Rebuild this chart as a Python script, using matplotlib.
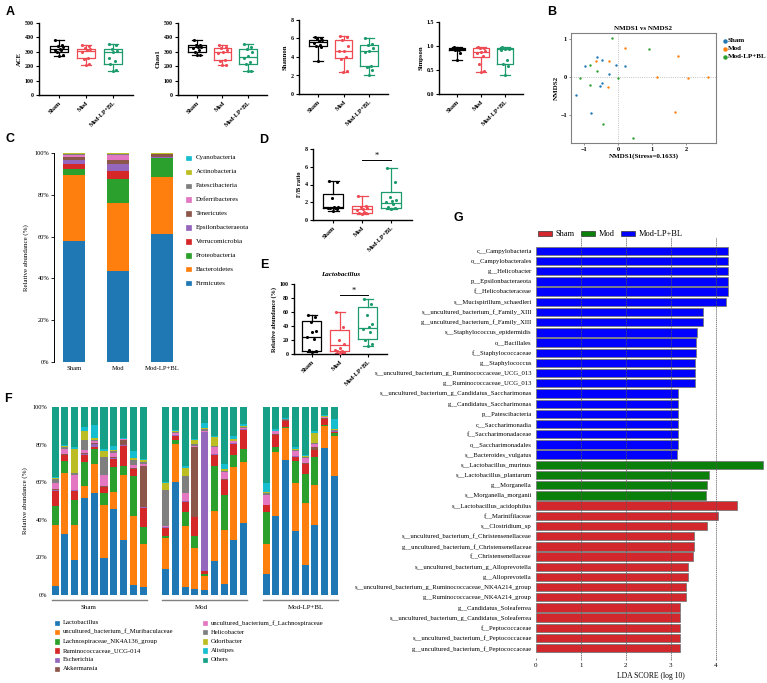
import numpy as np
import matplotlib
matplotlib.use("Agg")
import matplotlib.pyplot as plt
from matplotlib.patches import Rectangle
from matplotlib.lines import Line2D

# ---------------- data ----------------
groups = ["Sham", "Mod", "Mod-LP+BL"]

# Panel A: box stats [min, q1, median, q3, max] and individual points
ace_stats = [[270, 300, 318, 340, 385], [210, 255, 305, 322, 350], [170, 215, 300, 322, 355]]
ace_points = [[385, 345, 340, 330, 322, 315, 310, 300, 280, 270],
              [350, 340, 325, 320, 315, 300, 260, 250, 215, 210],
              [355, 345, 320, 305, 300, 255, 235, 215, 175, 170]]
chao_stats = [[275, 300, 330, 345, 385], [205, 240, 300, 325, 345], [165, 215, 265, 320, 355]]
chao_points = [[385, 350, 345, 335, 330, 325, 310, 300, 280, 275],
               [345, 335, 325, 315, 300, 290, 245, 235, 210, 205],
               [355, 335, 320, 300, 270, 260, 230, 215, 170, 165]]
shannon_stats = [[3.6, 5.2, 5.6, 5.8, 6.2], [2.4, 3.9, 4.6, 5.8, 6.3], [2.0, 3.0, 4.6, 5.3, 6.0]]
shannon_points = [[6.2, 6.0, 5.9, 5.8, 5.7, 5.5, 5.3, 5.2, 5.1, 3.6],
                  [6.3, 6.2, 5.8, 5.2, 4.7, 4.6, 4.0, 3.8, 2.5, 2.4],
                  [6.0, 5.4, 5.3, 5.0, 4.7, 4.5, 3.0, 2.9, 2.6, 2.0]]
simpson_stats = [[0.70, 0.91, 0.93, 0.95, 0.97], [0.45, 0.78, 0.88, 0.95, 0.98], [0.40, 0.62, 0.93, 0.95, 0.97]]
simpson_points = [[0.97, 0.96, 0.95, 0.94, 0.93, 0.93, 0.92, 0.91, 0.85, 0.70],
                  [0.98, 0.96, 0.95, 0.90, 0.88, 0.86, 0.80, 0.63, 0.47, 0.45],
                  [0.97, 0.96, 0.95, 0.94, 0.93, 0.92, 0.70, 0.62, 0.58, 0.40]]

# Panel B: NMDS coordinates
nmds_sham_x = [-0.61, -0.47, -0.97, -0.07, -0.25, 0.22, -0.47, -0.53, -1.22, -0.80]
nmds_sham_y = [0.53, 0.45, 0.28, 0.32, 0.09, 0.30, -0.15, -0.24, -0.46, -0.95]
nmds_mod_x = [0.22, -0.65, -0.27, 1.75, 1.15, 2.07, 2.64, -0.28, 1.67]
nmds_mod_y = [0.77, 0.43, 0.41, 0.54, -0.01, -0.03, -0.01, -0.26, -0.92]
nmds_lp_x = [-0.19, 0.91, -0.81, -0.63, -1.11, -0.01, -0.81, -0.44, 0.45]
nmds_lp_y = [1.03, 0.73, 0.31, 0.17, -0.03, -0.03, -0.20, -1.23, -1.58]

# Panel C: phylum relative abundance (%)
phyla = ["Firmicutes", "Bacteroidetes", "Proteobacteria", "Verrucomicrobia", "Epsilonbacteraeota",
         "Tenericutes", "Deferribacteres", "Patescibacteria", "Actinobacteria", "Cyanobacteria"]
firmicutes = [57.7, 43.4, 61.2]
bacteroidetes = [31.9, 32.5, 27.3]
proteobacteria = [2.6, 11.5, 8.9]
verrucomicrobia = [2.7, 3.8, 0.3]
epsilonbacteraeota = [1.9, 3.4, 0.2]
tenericutes = [1.3, 1.9, 1.5]
deferribacteres = [1.1, 2.7, 0.2]
patescibacteria = [0.3, 0.4, 0.1]
actinobacteria = [0.3, 0.2, 0.2]
cyanobacteria = [0.2, 0.2, 0.1]

# Panel D: F/B ratio
fb_stats = [[1.0, 1.3, 1.5, 2.9, 4.4], [0.7, 0.75, 1.2, 1.6, 2.7], [1.2, 1.4, 1.9, 3.1, 5.9]]
fb_points = [[4.4, 4.3, 2.5, 1.5, 1.5, 1.4, 1.4, 1.3, 1.2, 1.0],
             [2.7, 1.6, 1.5, 1.3, 1.2, 1.1, 0.9, 0.8, 0.75, 0.7],
             [5.9, 4.3, 2.6, 2.2, 2.1, 2.0, 1.8, 1.5, 1.4, 1.2]]

# Panel E: Lactobacillus relative abundance (%)
lacto_stats = [[3, 5, 25, 47, 55], [2, 4, 13, 34, 60], [12, 21, 37.6, 66.7, 78.6]]
lacto_points = [[55, 53, 46, 33, 32, 24, 22, 6, 5, 3],
                [60, 38, 20, 14, 9, 6, 5, 4, 3, 2],
                [78, 72, 55, 43, 38, 36, 32, 20, 14, 12]]

# Panel F: genus level, cumulative top (%) of each taxon per sample (10 Sham, 9 Mod, 8 Mod-LP+BL)
f_sizes = [10, 9, 8]
genera = ["Lactobacillus", "uncultured_bacterium_f_Muribaculaceae", "Lachnospiraceae_NK4A136_group",
          "Ruminococcaceae_UCG-014", "Escherichia", "Akkermansia", "uncultured_bacterium_f_Lachnospiraceae",
          "Helicobacter", "Odoribacter", "Alistipes", "Others"]
cum_lactobacillus = [5, 32.5, 18.5, 51.5, 54, 19.5, 46, 29, 5.5, 4,
                     14, 60, 4, 3, 2.5, 18, 6, 29, 38.5,
                     11.3, 42, 72, 34, 16, 37.5, 78, 63.5]
cum_muribaculaceae = [37, 65, 37.5, 58, 69.5, 48, 55, 64, 42, 27,
                      30.5, 80.5, 36.5, 25, 10, 44.5, 34.5, 68, 70.5,
                      27, 76, 89, 59.5, 49, 58.5, 90, 84.5]
cum_nk4a136 = [47.5, 71.5, 50.5, 70.5, 77.5, 54.5, 68, 68.5, 63.5, 36,
               31.5, 82.5, 44, 31.5, 11, 68.5, 53, 74.5, 77.5,
               44, 78.5, 89.5, 71.5, 64.5, 73.5, 90.5, 86]
cum_ucg014 = [55.5, 74.5, 55.5, 74.5, 78.5, 57.5, 72.5, 79.5, 67, 46.5,
              35.5, 84.5, 49.5, 41.5, 13, 74.5, 61, 80.5, 88,
              47.7, 85, 92.5, 73.5, 69.5, 77, 93.5, 86.5]
cum_escherichia = [56, 74.7, 55.8, 75, 80.5, 57.7, 73, 79.7, 67.2, 46.7,
                   36, 85, 49.8, 41.7, 86.5, 74.8, 61.3, 80.8, 88.3,
                   47.9, 85.2, 92.7, 73.7, 69.7, 77.2, 93.7, 87]
cum_akkermansia = [56.2, 75, 56, 75.5, 81, 58, 73.5, 82.5, 67.5, 68.5,
                   36.2, 85.3, 50, 78.5, 86.8, 75, 61.5, 81, 88.5,
                   48, 85.5, 93, 74, 70, 78.5, 94, 87.2]
cum_lachnospiraceae = [59.5, 77.5, 64, 77, 82, 64, 75.5, 82.8, 69, 69.7,
                       36.5, 86.3, 54.5, 79, 87.3, 78.5, 65.5, 81.7, 88.8,
                       53.2, 87, 93.2, 76.5, 73, 80.5, 94.5, 87.5]
cum_helicobacter = [61.5, 78.5, 64.8, 82.5, 82.5, 73.5, 76.5, 83, 72, 71,
                    56, 86.8, 63.5, 80.5, 88.5, 79, 66.2, 82, 89.2,
                    54, 87.3, 93.5, 77, 73.5, 81, 94.8, 88]
cum_odoribacter = [62.5, 79.2, 77.5, 87, 83.5, 76.5, 77, 83.2, 73, 72,
                   59.5, 87, 67.5, 82.5, 89, 84, 66.8, 83, 90,
                   55, 87.5, 93.7, 77.5, 74, 86, 95, 88.5]
cum_alistipes = [63, 79.8, 78.5, 89.5, 90.5, 77.5, 79.5, 83.7, 76.5, 72.5,
                 60.2, 88, 68.5, 83, 91.5, 84.5, 69.5, 84.5, 90.7,
                 59.5, 88.5, 94, 78.5, 74.5, 87, 95.5, 93.5]
cum_others = [100] * 27

# Panel G: LEfSe LDA scores
lda_labels = ["c__Campylobacteria", "o__Campylobacterales", "g__Helicobacter", "p__Epsilonbacteraeota",
              "f__Helicobacteraceae", "s__Mucispirillum_schaedleri", "s__uncultured_bacterium_f_Family_XIII",
              "g__uncultured_bacterium_f_Family_XIII", "s__Staphylococcus_epidermidis", "o__Bacillales",
              "f__Staphylococcaceae", "g__Staphylococcus", "s__uncultured_bacterium_g_Ruminococcaceae_UCG_013",
              "g__Ruminococcaceae_UCG_013", "s__uncultured_bacterium_g_Candidatus_Saccharimonas",
              "g__Candidatus_Saccharimonas", "p__Patescibacteria", "c__Saccharimonadia", "f__Saccharimonadaceae",
              "o__Saccharimonadales", "s__Bacteroides_vulgatus", "s__Lactobacillus_murinus",
              "s__Lactobacillus_plantarum", "g__Morganella", "s__Morganella_morganii",
              "s__Lactobacillus_acidophilus", "f__Marinifilaceae", "s__Clostridium_sp",
              "s__uncultured_bacterium_f_Christensenellaceae", "g__uncultured_bacterium_f_Christensenellaceae",
              "f__Christensenellaceae", "s__uncultured_bacterium_g_Alloprevotella", "g__Alloprevotella",
              "s__uncultured_bacterium_g_Ruminococcaceae_NK4A214_group", "g__Ruminococcaceae_NK4A214_group",
              "g__Candidatus_Soleaferrea", "s__uncultured_bacterium_g_Candidatus_Soleaferrea",
              "f__Peptococcaceae", "s__uncultured_bacterium_f_Peptococcaceae",
              "g__uncultured_bacterium_f_Peptococcaceae"]
lda_scores = [4.27, 4.27, 4.27, 4.27, 4.27, 4.22, 3.71, 3.71, 3.59, 3.57, 3.56, 3.54, 3.53, 3.53,
              3.16, 3.16, 3.16, 3.16, 3.16, 3.16, 3.14,
              5.06, 3.86, 3.81, 3.78,
              4.48, 4.06, 3.80, 3.51, 3.51, 3.49, 3.39, 3.39, 3.33, 3.33, 3.21, 3.21, 3.20, 3.20, 3.20]
lda_groups = ["Mod-LP+BL"] * 21 + ["Mod"] * 4 + ["Sham"] * 15

# ---------------- styling ----------------
W, H = 767, 683
plt.rcParams['font.family'] = ['Liberation Serif', 'DejaVu Serif']
fig = plt.figure(figsize=(W / 100, H / 100), dpi=100)

box_colors = ['#000000', '#ef4b55', '#1d9b6c']
tab = ['#1f77b4', '#ff7f0e', '#2ca02c', '#d62728', '#9467bd', '#8c564b', '#e377c2', '#7f7f7f', '#bcbd22', '#17becf']
jit = np.array([-0.14, 0.12, -0.04, 0.16, 0.02, -0.16, 0.08, -0.09, 0.13, -0.01])


def add_ax(l, t, r, b):
    return fig.add_axes([l / W, 1 - b / H, (r - l) / W, (b - t) / H])


def letter(x, y, s):
    fig.text(x / W, 1 - y / H, s, fontsize=9, fontweight='bold', family='Liberation Sans',
             va='center', ha='center')


def legend_square(x, y, color, label, size=5, fs=5, gap=4, edge=None, w=None, weight='normal'):
    w = size if w is None else w
    fig.patches.append(Rectangle((x / W, 1 - (y + size / 2) / H), w / W, size / H,
                                 transform=fig.transFigure, facecolor=color,
                                 edgecolor=edge if edge else color, lw=0.5, figure=fig))
    fig.text((x + w + gap) / W, 1 - y / H, label, fontsize=fs, va='center', ha='left', fontweight=weight)


def box_panel(ax, stats, points, ylim, yticks, ylabel, xlim=(-0.75, 2.75), fmt=None, tfs=4.3):
    for i in range(3):
        s = stats[i]
        c = box_colors[i]
        bx = [{'whislo': s[0], 'q1': s[1], 'med': s[2], 'q3': s[3], 'whishi': s[4], 'fliers': []}]
        ax.bxp(bx, positions=[i], widths=0.68, capwidths=0.38, showfliers=False, manage_ticks=False,
               boxprops=dict(color=c, lw=0.9), medianprops=dict(color=c, lw=0.9),
               whiskerprops=dict(color=c, lw=0.9), capprops=dict(color=c, lw=0.9))
        pts = np.array(points[i])
        ax.scatter(i + jit[:len(pts)], pts, s=5, color=c, zorder=3, lw=0)
    ax.set_xlim(*xlim)
    ax.set_ylim(*ylim)
    ax.set_yticks(yticks)
    if fmt:
        ax.set_yticklabels([fmt.format(v) for v in yticks])
    ax.set_xticks([0, 1, 2])
    ax.set_xticklabels(groups, rotation=45, ha='right', rotation_mode='anchor', fontsize=4.5, fontweight='bold')
    for lab in ax.get_yticklabels():
        lab.set_fontsize(tfs)
        lab.set_fontweight('bold')
    ax.set_ylabel(ylabel, fontsize=4.8, fontweight='bold', labelpad=2)
    for sp in ['top', 'right']:
        ax.spines[sp].set_visible(False)
    for sp in ['left', 'bottom']:
        ax.spines[sp].set_linewidth(1.0)
    ax.tick_params(length=2.2, width=0.8, pad=1.5)


# ---------------- Panel A ----------------
letter(10, 12, 'A')
ax = add_ax(39, 23, 133, 95)
box_panel(ax, ace_stats, ace_points, (0, 500), [0, 100, 200, 300, 400, 500], 'ACE')
ax = add_ax(178, 23, 267, 95)
box_panel(ax, chao_stats, chao_points, (0, 500), [0, 100, 200, 300, 400, 500], 'Chao1')
ax = add_ax(299, 20, 388, 94)
box_panel(ax, shannon_stats, shannon_points, (0, 8), [0, 2, 4, 6, 8], 'Shannon')
ax = add_ax(439, 22, 523, 94)
box_panel(ax, simpson_stats, simpson_points, (0, 1.5), [0.0, 0.5, 1.0, 1.5], 'Simpson', fmt='{:.1f}')

# ---------------- Panel B ----------------
letter(552, 12, 'B')
ax = add_ax(571, 33, 716, 143)
ax.axhline(0, color='#b0b0b0', ls=':', lw=0.6, zorder=1)
ax.axvline(0, color='#b0b0b0', ls=':', lw=0.6, zorder=1)
ax.scatter(nmds_sham_x, nmds_sham_y, s=3, color=tab[0], lw=0, zorder=3)
ax.scatter(nmds_mod_x, nmds_mod_y, s=3, color=tab[1], lw=0, zorder=3)
ax.scatter(nmds_lp_x, nmds_lp_y, s=3, color=tab[2], lw=0, zorder=3)
ax.set_xlim(-1.38, 2.88)
ax.set_ylim(-1.72, 1.15)
ax.set_xticks([-1, 0, 1, 2])
ax.set_yticks([-1, 0, 1])
for lab in ax.get_xticklabels() + ax.get_yticklabels():
    lab.set_fontsize(4.5)
    lab.set_fontweight('bold')
ax.tick_params(length=1.5, width=0.6, pad=1.5, color='#808080')
for sp in ax.spines.values():
    sp.set_color('#808080')
    sp.set_linewidth(0.8)
ax.set_title('NMDS1 vs NMDS2', fontsize=5, fontweight='bold', pad=2.5)
ax.set_xlabel('NMDS1(Stress=0.1633)', fontsize=5, fontweight='bold', labelpad=1)
ax.set_ylabel('NMDS2', fontsize=5, fontweight='bold', labelpad=1)
for i, g in enumerate(groups):
    fig.lines.append(Line2D([724.5 / W], [1 - (41 + 7.8 * i) / H], marker='o', markersize=2.2, color=tab[i],
                            lw=0, transform=fig.transFigure, figure=fig))
    fig.text(728 / W, 1 - (41 + 7.8 * i) / H, g, fontsize=5, fontweight='bold', va='center', ha='left')

# ---------------- Panel C ----------------
letter(10, 139, 'C')
ax = add_ax(54, 153, 185, 362)
phylum_vals = [firmicutes, bacteroidetes, proteobacteria, verrucomicrobia, epsilonbacteraeota,
               tenericutes, deferribacteres, patescibacteria, actinobacteria, cyanobacteria]
bottom = np.zeros(3)
xc = np.arange(3)
for vals, col in zip(phylum_vals, tab):
    ax.bar(xc, vals, 0.5, bottom=bottom, color=col, lw=0)
    bottom += np.array(vals)
ax.set_xlim(-0.45, 2.52)
ax.set_ylim(0, 100)
ax.set_yticks(np.arange(0, 101, 20))
ax.set_yticklabels(['%d%%' % v for v in range(0, 101, 20)], fontsize=4.6)
ax.set_xticks(xc)
ax.set_xticklabels(groups, fontsize=4.8)
ax.tick_params(axis='x', length=0, pad=3)
ax.tick_params(axis='y', length=2, width=0.6, pad=1.5)
for sp in ['top', 'right', 'bottom']:
    ax.spines[sp].set_visible(False)
ax.spines['left'].set_linewidth(0.7)
ax.set_ylabel('Relative abundance (%)', fontsize=5, labelpad=4)
for k, i in enumerate(range(len(phyla) - 1, -1, -1)):
    legend_square(186, 158 + 13.9 * k, tab[i], phyla[i], size=4.5, fs=5, gap=5)

# ---------------- Panel D ----------------
letter(264, 140, 'D')
ax = add_ax(313, 149, 412, 220)
box_panel(ax, fb_stats, fb_points, (0, 8), [0, 2, 4, 6, 8], 'F/B ratio', xlim=(-0.69, 2.72))
ax.plot([1, 2], [6.75, 6.75], color='k', lw=0.7)
ax.text(1.5, 6.8, '*', ha='center', va='bottom', fontsize=6)

# ---------------- Panel E ----------------
letter(264, 265, 'E')
ax = add_ax(294, 284, 387, 354)
box_panel(ax, lacto_stats, lacto_points, (0, 100), [0, 20, 40, 60, 80, 100], 'Relative abundance (%)',
          xlim=(-0.64, 2.68))
ax.yaxis.label.set_fontsize(4.5)
ax.plot([1, 2], [84, 84], color='k', lw=0.7)
ax.text(1.5, 85, '*', ha='center', va='bottom', fontsize=6)
ax.set_title('Lactobacillus', fontsize=5, fontweight='bold', style='italic', pad=6)

# ---------------- Panel F ----------------
letter(8, 399, 'F')
ax = add_ax(50, 407, 338, 595)
cums = [cum_lactobacillus, cum_muribaculaceae, cum_nk4a136, cum_ucg014, cum_escherichia, cum_akkermansia,
        cum_lachnospiraceae, cum_helicobacter, cum_odoribacter, cum_alistipes, cum_others]
f_colors = tab + ['#17a088']
f_gaps = [0.0, 1.3, 2.6]
xpos = []
start = 0.0
for gi, n in enumerate(f_sizes):
    xpos.extend(list(np.arange(n) + start))
    start += n + 1.3
xpos = np.array(xpos)
prev = np.zeros(len(xpos))
for cum, col in zip(cums, f_colors):
    cum = np.array(cum, dtype=float)
    ax.bar(xpos, cum - prev, 0.72, bottom=prev, color=col, lw=0)
    prev = cum
ax.set_xlim(-0.53, xpos[-1] + 0.37)
ax.set_ylim(0, 100)
ax.set_yticks(np.arange(0, 101, 20))
ax.set_yticklabels(['%d%%' % v for v in range(0, 101, 20)], fontsize=4.6)
ax.set_xticks([])
ax.tick_params(axis='y', length=0, pad=2)
for sp in ax.spines.values():
    sp.set_visible(False)
ax.set_ylabel('Relative abundance (%)', fontsize=5, labelpad=3)
trans = ax.get_xaxis_transform()
idx = 0
label_shift = [-1.1, -0.3, 0.6]
for gi, n in enumerate(f_sizes):
    x0, x1 = xpos[idx] - 0.36, xpos[idx + n - 1] + 0.36
    ax.plot([x0, x1], [-0.027, -0.027], color='#808080', lw=1.0, transform=trans, clip_on=False)
    ax.text((x0 + x1) / 2 + label_shift[gi], -0.068, groups[gi], transform=trans, fontsize=5,
            ha='center', va='center')
    idx += n
left_col = [0, 1, 2, 3, 4, 5]
right_col = [6, 7, 8, 9, 10]
for k, i in enumerate(left_col):
    legend_square(55, 623 + 9.2 * k, f_colors[i], genera[i], size=4.5, fs=4.8, gap=3)
for k, i in enumerate(right_col):
    legend_square(203, 623 + 9.2 * k, f_colors[i], genera[i], size=4.5, fs=4.8, gap=3)

# ---------------- Panel G ----------------
letter(458, 218, 'G')
ax = add_ax(536, 237, 766, 658)
gcol = {'Sham': '#d3272e', 'Mod': '#0a7f0a', 'Mod-LP+BL': '#0000ff'}
ypos = np.arange(len(lda_labels))
ax.barh(ypos, lda_scores, 0.82, color=[gcol[g] for g in lda_groups], edgecolor='#7a7a7a', lw=0.6, zorder=2)
for v in [1, 2, 3, 4]:
    ax.axvline(v, color='#555555', lw=0.5, ls=(0, (2, 1)), zorder=3)
ax.set_xlim(0, 5.12)
ax.set_ylim(len(lda_labels) - 0.04, -1.36)
ax.set_yticks(ypos)
ax.set_yticklabels(lda_labels, fontsize=4.8)
ax.set_xticks([0, 1, 2, 3, 4])
ax.set_xticklabels(['0', '1', '2', '3', '4'], fontsize=5)
ax.tick_params(axis='y', length=0, pad=3)
ax.tick_params(axis='x', length=1.5, width=0.5, pad=2, color='#555555')
for sp in ax.spines.values():
    sp.set_visible(False)
ax.set_xlabel('LDA SCORE (log 10)', fontsize=5.5, labelpad=3)
legend_square(538, 233.5, gcol['Sham'], 'Sham', size=5.5, w=14, fs=6, gap=4, edge='#333333')
legend_square(581, 233.5, gcol['Mod'], 'Mod', size=5.5, w=14, fs=6, gap=4, edge='#333333')
legend_square(621, 233.5, gcol['Mod-LP+BL'], 'Mod-LP+BL', size=5.5, w=14, fs=6, gap=4, edge='#333333')

fig.savefig('out.png', dpi=100)
